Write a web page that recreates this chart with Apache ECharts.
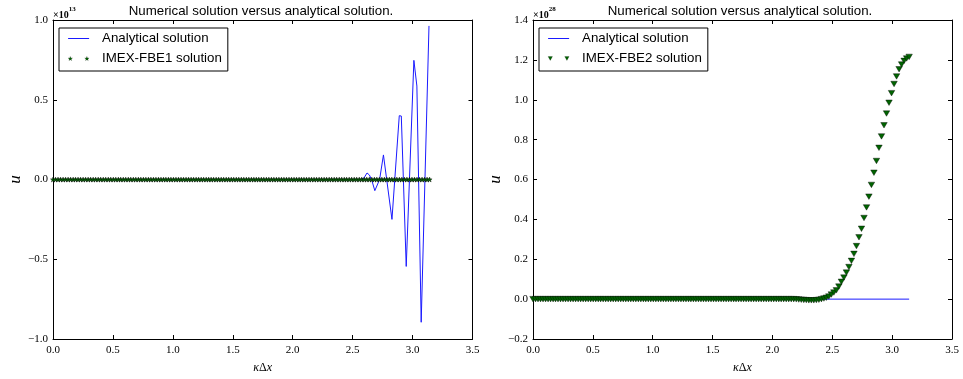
<!DOCTYPE html>
<html><head><meta charset="utf-8">
<script src="https://cdn.jsdelivr.net/npm/echarts@6/dist/echarts.min.js"></script>
<style>html,body{margin:0;padding:0;background:#fff}#c{width:963px;height:379px}</style>
</head><body><div id="c"></div>
<script>
// sample points kappa*dx (0 .. pi)
const kdx = [
0,0.021,0.042,0.063,0.084,0.105,0.126,0.147,0.168,0.188,
0.209,0.230,0.251,0.272,0.293,0.314,0.335,0.356,0.377,0.398,
0.419,0.440,0.461,0.482,0.503,0.524,0.545,0.565,0.586,0.607,
0.628,0.649,0.670,0.691,0.712,0.733,0.754,0.775,0.796,0.817,
0.838,0.859,0.880,0.901,0.922,0.942,0.963,0.984,1.005,1.026,
1.047,1.068,1.089,1.110,1.131,1.152,1.173,1.194,1.215,1.236,
1.257,1.278,1.299,1.319,1.340,1.361,1.382,1.403,1.424,1.445,
1.466,1.487,1.508,1.529,1.550,1.571,1.592,1.613,1.634,1.655,
1.676,1.696,1.717,1.738,1.759,1.780,1.801,1.822,1.843,1.864,
1.885,1.906,1.927,1.948,1.969,1.990,2.011,2.032,2.053,2.073,
2.094,2.115,2.136,2.157,2.178,2.199,2.220,2.241,2.262,2.283,
2.304,2.325,2.346,2.367,2.388,2.409,2.430,2.450,2.471,2.492,
2.513,2.534,2.555,2.576,2.597,2.618,2.639,2.660,2.681,2.702,
2.723,2.744,2.765,2.786,2.806,2.827,2.848,2.869,2.890,2.911,
2.932,2.953,2.974,2.995,3.016,3.037,3.058,3.079,3.100,3.121,
3.142];

// left: IMEX-FBE1 numerical solution (units of 1e13)
const fbe1 = [
0,0,0,0,0,0,0,0,0,0, 0,0,0,0,0,0,0,0,0,0,
0,0,0,0,0,0,0,0,0,0, 0,0,0,0,0,0,0,0,0,0,
0,0,0,0,0,0,0,0,0,0, 0,0,0,0,0,0,0,0,0,0,
0,0,0,0,0,0,0,0,0,0, 0,0,0,0,0,0,0,0,0,0,
0,0,0,0,0,0,0,0,0,0, 0,0,0,0,0,0,0,0,0,0,
0,0,0,0,0,0,0,0,0,0, 0,0,0,0,0,0,0,0,0,0,
0,0,0,0,0,0,0,0,0,0, 0,0,0,0,0,0,0,0,0,0,
0,0,0,0,0,0,0,0,0,0,
0];

// left: analytical solution (units of 1e13)
const anaLeftX = [0, 2.57, 2.595, 2.62, 2.64, 2.66, 2.685, 2.697, 2.725, 2.757, 2.772, 2.828, 2.842, 2.889, 2.906, 2.947, 2.962, 3.011, 3.036, 3.072, 3.137];
const anaLeftY = [0, 0, 0.010, 0.041, 0.028, -0.005, -0.07, -0.076, 0.0, 0.154, 0.150, -0.250, -0.252, 0.400, 0.398, -0.545, -0.540, 0.747, 0.586, -0.895, 0.963];

// right: IMEX-FBE2 numerical solution (units of 1e28)
const fbe2 = [
0,0,0,0,0,0,0,0,0,0, 0,0,0,0,0,0,0,0,0,0,
0,0,0,0,0,0,0,0,0,0, 0,0,0,0,0,0,0,0,0,0,
0,0,0,0,0,0,0,0,0,0, 0,0,0,0,0,0,0,0,0,0,
0,0,0,0,0,0,0,0,0,0, 0,0,0,0,0,0,0,0,0,0,
0,0,0,0,0,0,0,0,0,0, 0,0,0,0,0,0,0,0,0,0,
0,0,0,0,0,
-0.001,-0.002,-0.003,-0.004,-0.005,-0.006,-0.006,-0.006,-0.005,-0.003,
0.000,0.003,0.007,0.013,0.023,0.033,0.044,0.063,0.087,0.108,
0.133,0.161,0.192,0.227,0.266,0.310,0.353,0.407,0.460,0.514,
0.573,0.634,0.693,0.759,0.816,0.872,0.931,0.985,1.033,1.079,
1.117,1.153,1.177,1.195,1.207,1.215];

// right: analytical solution (units of 1e28)
const anaRightX = [0, 3.142];
const anaRightY = [0, 0];

const xTicks = {min: 0, max: 3.5, interval: 0.5};
const yLeft = {min: -1.0, max: 1.0, interval: 0.5};
const yRight = {min: -0.2, max: 1.4, interval: 0.2};
const titleText = 'Numerical solution versus analytical solution.';
const names = ['Analytical solution', 'IMEX-FBE1 solution', 'IMEX-FBE2 solution'];

const SANS = 'Liberation Sans';
const SERIF = 'Liberation Serif';
const GREEN = '#006400';
const BLUE = '#1a1aff';
const fmt = v => (v < 0 ? '\u2212' : '') + Math.abs(v).toFixed(1);
const starPath = 'path://M10,0 L12.35,6.76 L19.51,6.91 L13.8,11.24 L15.88,18.09 L10,14 L4.12,18.09 L6.2,11.24 L0.49,6.91 L7.65,6.76 Z';
const starPair = 'path://M10,0 L12.35,6.76 L19.51,6.91 L13.8,11.24 L15.88,18.09 L10,14 L4.12,18.09 L6.2,11.24 L0.49,6.91 L7.65,6.76 Z M82,0 L84.35,6.76 L91.51,6.91 L85.8,11.24 L87.88,18.09 L82,14 L76.12,18.09 L78.2,11.24 L72.49,6.91 L79.65,6.76 Z';
const triPair = 'path://M0,0 L10,0 L5,8.66 Z M38,0 L48,0 L43,8.66 Z';
const linePath = 'path://M0,0 H20 V1 H0 Z';

function xAx(gi, top) {
  return Object.assign({
    gridIndex: gi, type: 'value', position: top ? 'top' : 'bottom',
    axisLine: {onZero: false, lineStyle: {color: '#000', width: 1}},
    axisTick: {inside: true, length: 4, lineStyle: {color: '#000', width: 1}},
    axisLabel: top ? {show: false} : {margin: 6, fontFamily: SERIF, fontSize: 11, color: '#000', formatter: fmt},
    splitLine: {show: false},
    name: top ? '' : '{i|κ}{n|Δ}{i|x}', nameLocation: 'middle', nameGap: 23,
    nameTextStyle: {rich: {i: {fontFamily: SERIF, fontStyle: 'italic', fontSize: 12, color: '#000'}, n: {fontFamily: SERIF, fontSize: 12, color: '#000'}}}
  }, xTicks);
}
function yAx(gi, right, rng) {
  return Object.assign({
    gridIndex: gi, type: 'value', position: right ? 'right' : 'left',
    axisLine: {onZero: false, lineStyle: {color: '#000', width: 1}},
    axisTick: {inside: true, length: 4, lineStyle: {color: '#000', width: 1}},
    axisLabel: right ? {show: false} : {margin: 5, fontFamily: SERIF, fontSize: 11, color: '#000', formatter: fmt},
    splitLine: {show: false},
    name: right ? '' : 'u', nameLocation: 'middle', nameGap: 27,
    nameTextStyle: {fontFamily: SERIF, fontStyle: 'italic', fontSize: 17, color: '#000'}
  }, rng);
}
function legendFor(left, second, icon) {
  return {
    left: left, top: 28, orient: 'vertical', selectedMode: false,
    backgroundColor: '#fff', borderColor: '#000', borderWidth: 1, borderRadius: 0,
    padding: [4, 6, 6, 9], itemGap: 7, itemWidth: 21, itemHeight: 14,
    textStyle: {fontFamily: SANS, fontSize: 13.3, color: '#000', padding: [0, 0, 0, 8]},
    data: [
      {name: names[0], icon: linePath, itemStyle: {color: BLUE, borderWidth: 0}},
      {name: second, icon: icon, itemStyle: {color: GREEN, borderColor: '#000', borderWidth: 0.2}}
    ]
  };
}
const expRich = {a: {fontFamily: SERIF, fontSize: 10, color: '#000', verticalAlign: 'bottom', lineHeight: 14}, b: {fontFamily: SERIF, fontSize: 7, color: '#000', verticalAlign: 'top', lineHeight: 9}};

const chart = echarts.init(document.getElementById('c'), null, {renderer: 'canvas'});
chart.setOption({
  backgroundColor: '#fff',
  animation: false,
  title: [
    {text: titleText, left: 261, top: 5, textAlign: 'center', padding: 0, textStyle: {fontFamily: SANS, fontSize: 13.3, fontWeight: 'normal', color: '#000'}},
    {text: titleText, left: 740, top: 5, textAlign: 'center', padding: 0, textStyle: {fontFamily: SANS, fontSize: 13.3, fontWeight: 'normal', color: '#000'}},
    {text: '{a|×10}{b|13}', left: 53, top: 6, padding: 0, textStyle: {rich: expRich}},
    {text: '{a|×10}{b|28}', left: 533, top: 6, padding: 0, textStyle: {rich: expRich}}
  ],
  legend: [legendFor(59, names[1], starPair), legendFor(539, names[2], triPair)],
  grid: [
    {left: 53, top: 20, width: 419.5, height: 325, containLabel: false},
    {left: 533, top: 20, width: 419, height: 325, containLabel: false}
  ],
  xAxis: [xAx(0, false), xAx(0, true), xAx(1, false), xAx(1, true)],
  yAxis: [yAx(0, false, yLeft), yAx(0, true, yLeft), yAx(1, false, yRight), yAx(1, true, yRight)],
  series: [
    {name: names[0], type: 'line', xAxisIndex: 0, yAxisIndex: 0, symbol: 'none', showSymbol: false, z: 2,
     lineStyle: {color: BLUE, width: 1}, itemStyle: {color: BLUE},
     data: anaLeftX.map((x, i) => [x, anaLeftY[i]])},
    {name: names[1], type: 'scatter', xAxisIndex: 0, yAxisIndex: 0, symbol: starPath, symbolSize: 5, z: 3,
     itemStyle: {color: GREEN, borderColor: '#000', borderWidth: 0.4, opacity: 1},
     data: kdx.map((x, i) => [x, fbe1[i]])},
    {name: names[0], type: 'line', xAxisIndex: 2, yAxisIndex: 2, symbol: 'none', showSymbol: false, z: 2,
     lineStyle: {color: BLUE, width: 1}, itemStyle: {color: BLUE},
     data: anaRightX.map((x, i) => [x, anaRightY[i]])},
    {name: names[2], type: 'scatter', xAxisIndex: 2, yAxisIndex: 2, symbol: 'triangle', symbolRotate: 180, symbolSize: [6.5, 5.5], z: 3,
     itemStyle: {color: GREEN, borderColor: '#000', borderWidth: 0.4, opacity: 1},
     data: kdx.map((x, i) => [x, fbe2[i]])}
  ]
});
</script></body></html>
